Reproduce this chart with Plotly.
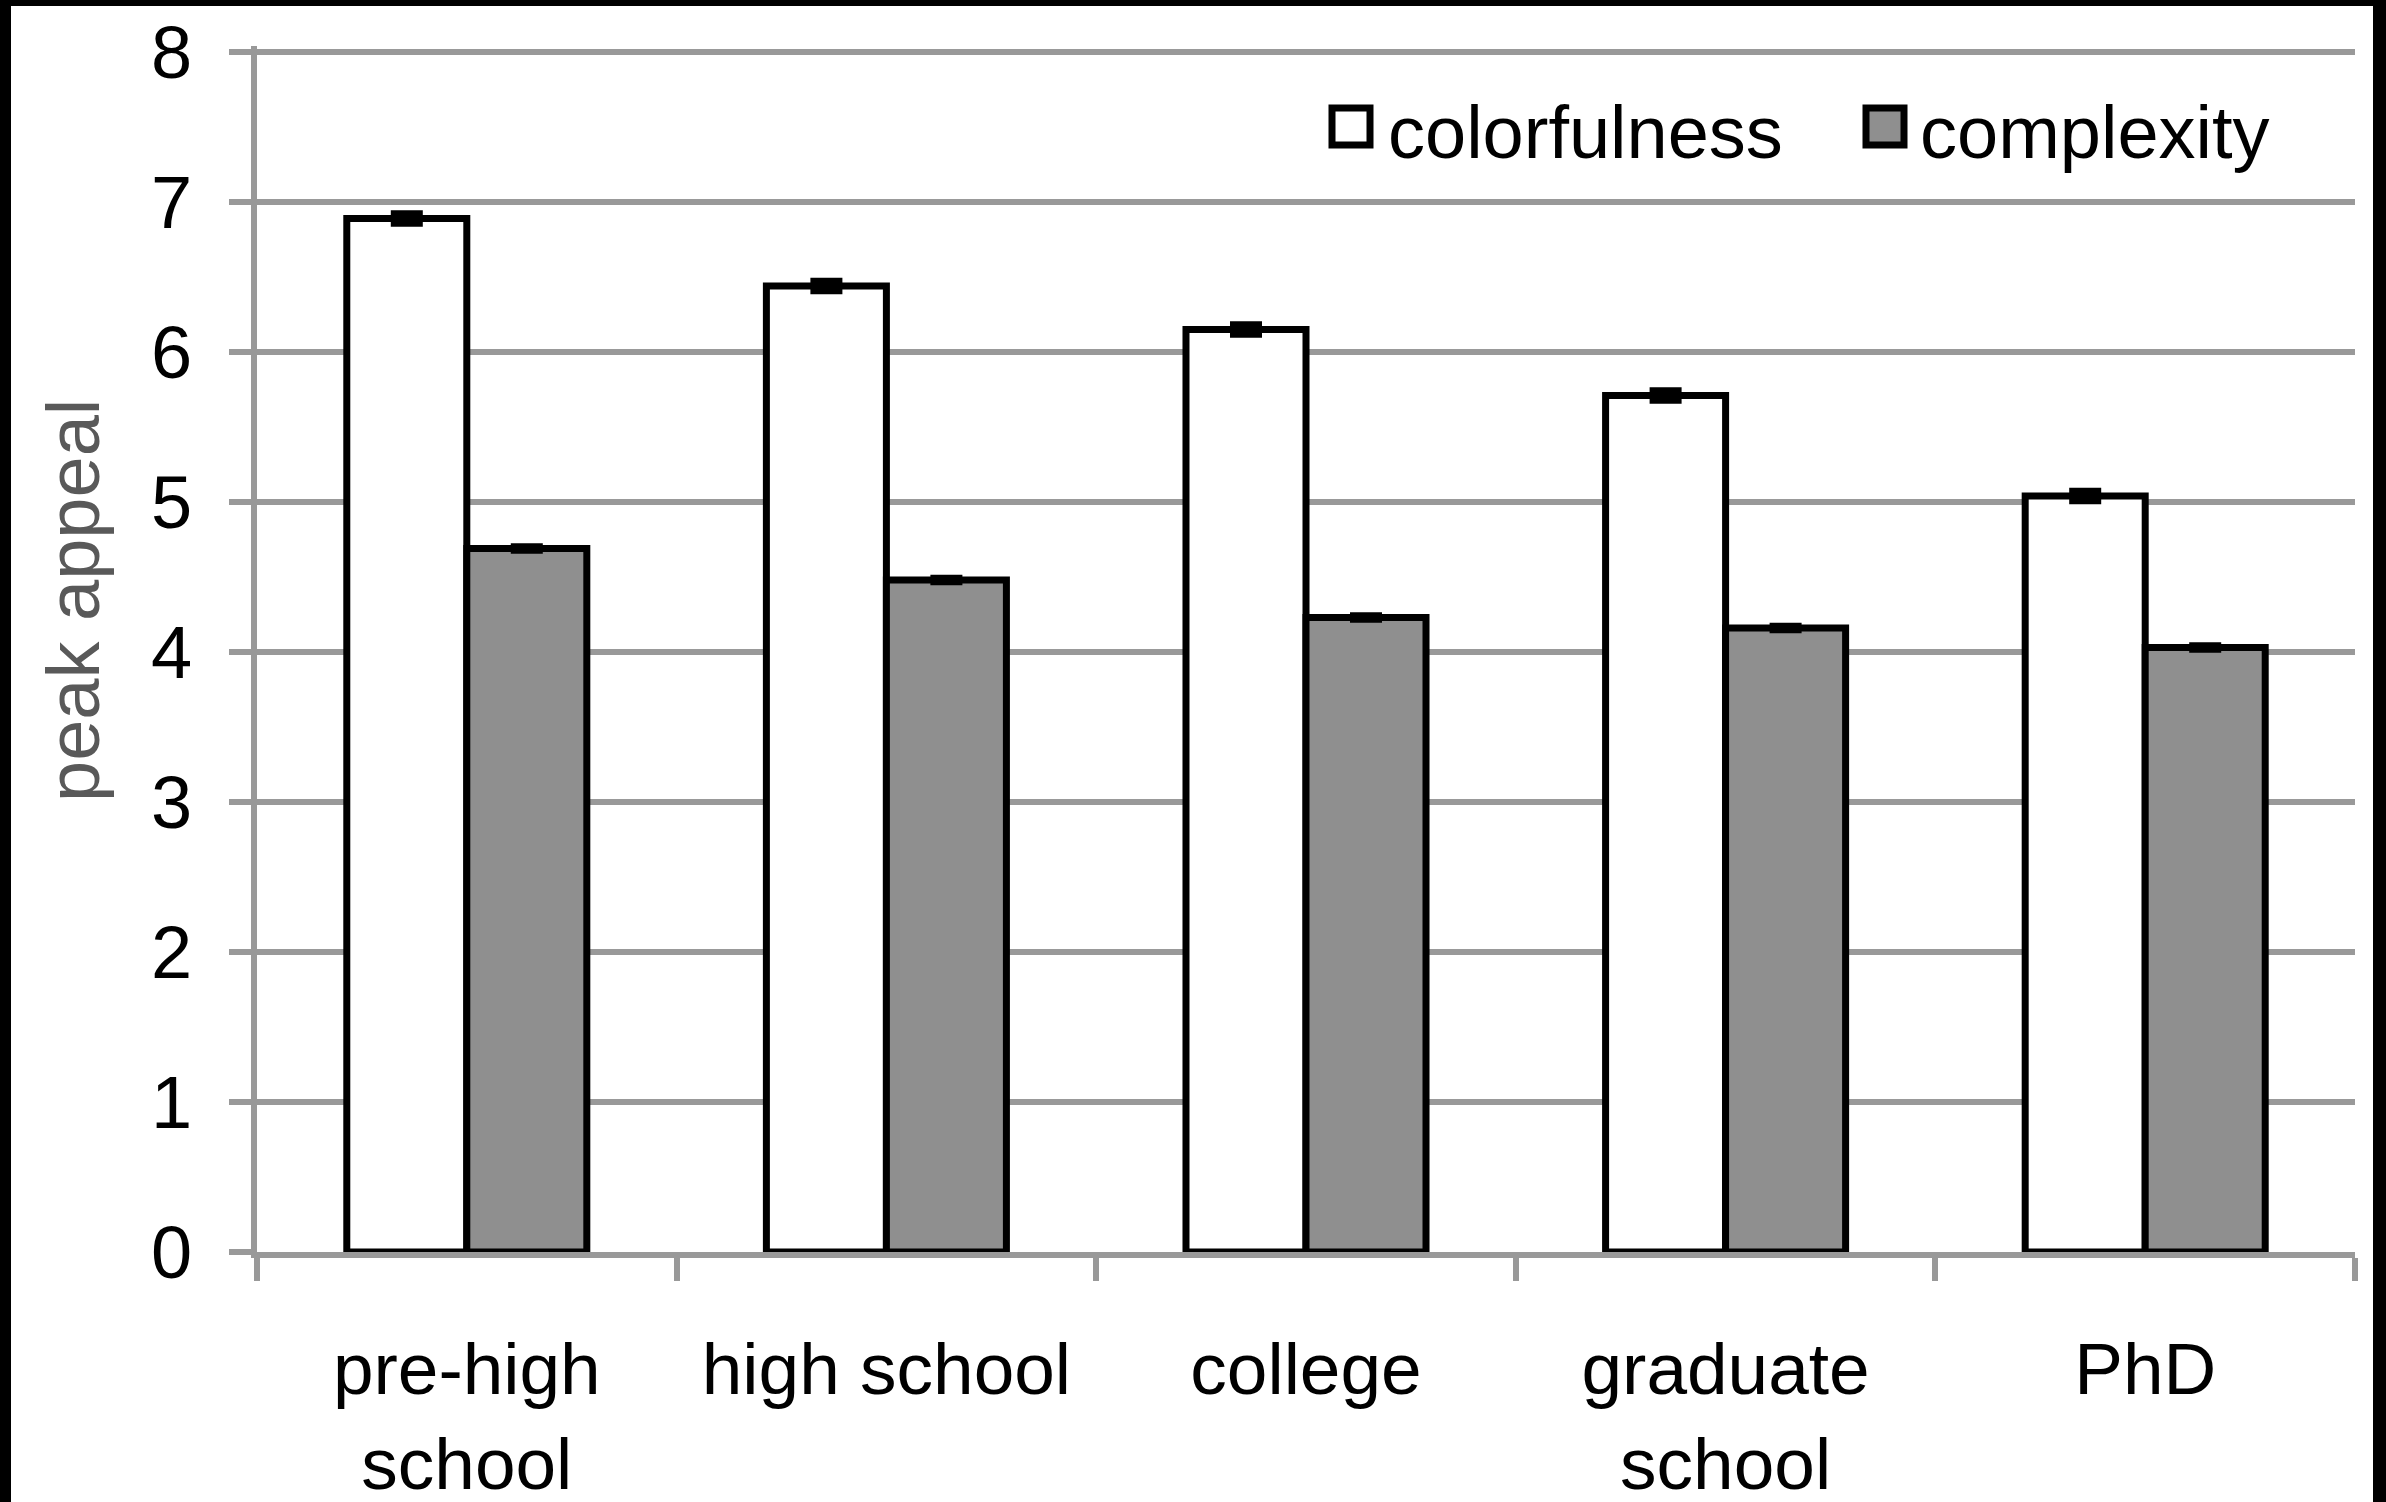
import plotly.graph_objects as go

# data
categories = ["pre-high<br>school", "high school", "college", "graduate<br>school", "PhD"]
colorfulness = [6.89, 6.44, 6.15, 5.71, 5.04]
complexity = [4.69, 4.48, 4.23, 4.16, 4.03]
colorfulness_err = [0.035, 0.035, 0.035, 0.035, 0.035]
complexity_err = [0.015, 0.015, 0.015, 0.015, 0.015]
y_ticks = [0, 1, 2, 3, 4, 5, 6, 7, 8]
series_names = ["colorfulness", "complexity"]

W, H = 2386, 1502
Y_TOP = 8.04  # a bit above 8 so the top gridline is drawn
L, R, B = 257, 31, 250
PH = round(1200 * Y_TOP / 8)
T = H - B - PH
PW = W - L - R

GRID = "#999999"
GRAY_FILL = "#8f8f8f"
FONT = "Liberation Sans, Arial, sans-serif"


def xp(px):
    return (px - L) / PW


def yp(py):
    return (H - B - py) / PH


fig = go.Figure()

fig.add_trace(
    go.Bar(
        x=categories,
        y=colorfulness,
        name=series_names[0],
        marker=dict(color="white", line=dict(color="black", width=7)),
        error_y=dict(type="data", array=colorfulness_err, color="black", thickness=6, width=16),
        showlegend=False,
    )
)
fig.add_trace(
    go.Bar(
        x=categories,
        y=complexity,
        name=series_names[1],
        marker=dict(color=GRAY_FILL, line=dict(color="black", width=7)),
        error_y=dict(type="data", array=complexity_err, color="black", thickness=6, width=16),
        showlegend=False,
    )
)

# legend drawn by hand (plotly caps the legend swatch size)
swatches = [(1332, 1370, "white", 1386), (1866, 1904, GRAY_FILL, 1918)]
for (x0, x1, fill, tx), name in zip(swatches, series_names):
    fig.add_shape(
        type="rect", xref="paper", yref="paper",
        x0=xp(x0), x1=xp(x1), y0=yp(108), y1=yp(145),
        fillcolor=fill, line=dict(color="black", width=7),
    )
    fig.add_annotation(
        xref="paper", yref="paper", x=xp(tx), y=yp(133),
        xanchor="left", yanchor="middle", text=name, showarrow=False,
        font=dict(family=FONT, size=74, color="black"),
    )

# y axis title
fig.add_annotation(
    xref="paper", yref="paper", x=xp(73), y=yp(601),
    xanchor="center", yanchor="middle", textangle=-90,
    text="peak appeal", showarrow=False,
    font=dict(family=FONT, size=74, color="#595959"),
)

# black frame around the picture
for x0, x1, y0, y1 in [(0, 11, 0, H), (0, W, 0, 6), (2373, W, 0, H)]:
    fig.add_shape(
        type="rect", xref="paper", yref="paper",
        x0=xp(x0), x1=xp(x1), y0=yp(y1), y1=yp(y0),
        fillcolor="black", line=dict(width=0), layer="above",
    )

fig.update_layout(
    width=W,
    height=H,
    autosize=False,
    margin=dict(l=L, r=R, t=T, b=B, autoexpand=False),
    paper_bgcolor="white",
    plot_bgcolor="white",
    barmode="group",
    bargap=0.428,
    bargroupgap=0,
    showlegend=False,
    font=dict(family=FONT, size=74, color="black"),
    xaxis=dict(
        automargin=False,
        showline=True, linecolor=GRID, linewidth=6,
        ticks="outside", tickson="boundaries", ticklen=23, tickwidth=6, tickcolor=GRID,
        ticklabelstandoff=48,
        tickfont=dict(family=FONT, size=73, color="black"),
        showgrid=False,
    ),
    yaxis=dict(
        automargin=False,
        range=[0, Y_TOP],
        tickvals=y_ticks,
        showline=True, linecolor=GRID, linewidth=6,
        showgrid=True, gridcolor=GRID, gridwidth=6,
        zeroline=False,
        ticks="outside", ticklen=22, tickwidth=6, tickcolor=GRID,
        ticklabelstandoff=22,
        tickfont=dict(family=FONT, size=74, color="black"),
    ),
)

# page body has a default 8px margin; drop it so the chart fills the window
fig.write_html(
    "out.html",
    config={"responsive": False, "displayModeBar": False},
    post_script="document.body.style.margin='0';document.body.style.overflow='hidden';",
)
